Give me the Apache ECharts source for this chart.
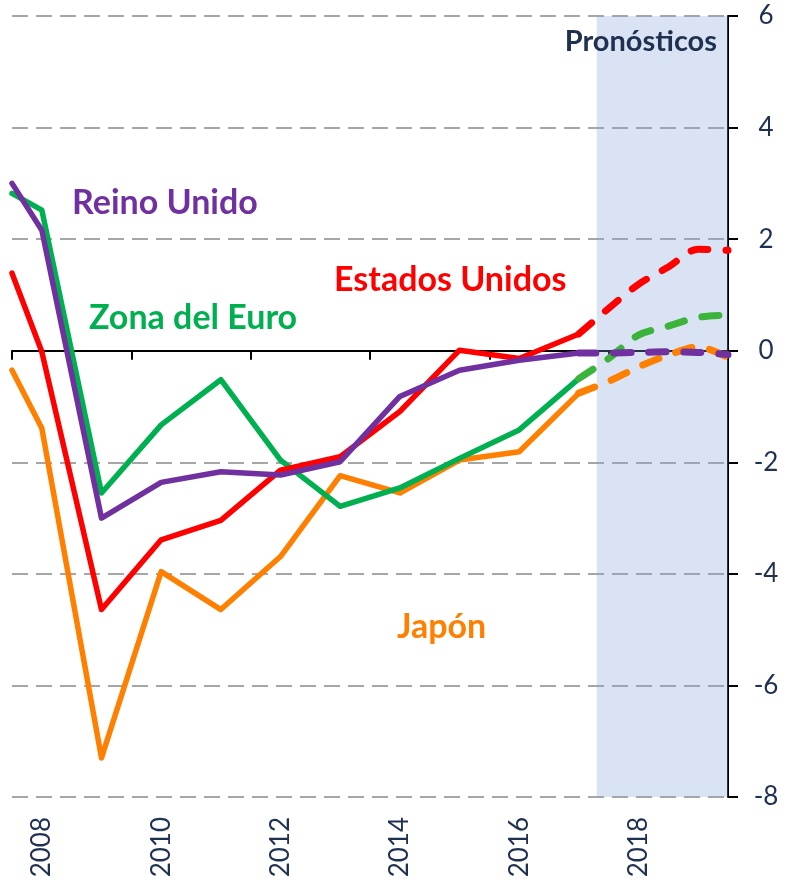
<!DOCTYPE html>
<html>
<head>
<meta charset="utf-8">
<script src="https://cdn.jsdelivr.net/npm/echarts@6/dist/echarts.min.js"></script>
<style>
  html, body { margin: 0; padding: 0; background: #fff; }
  #chart { width: 786px; height: 884px; }
</style>
</head>
<body>
<div id="chart"></div>
<script>
// observed years (first point sits on the left edge of the plot)
const years = [2007.5, 2008, 2009, 2010, 2011, 2012, 2013, 2014, 2015, 2016, 2017]
const usa = [1.39, -0.02, -4.64, -3.39, -3.04, -2.14, -1.90, -1.09, 0.01, -0.14, 0.30]
const uk = [3.0, 2.16, -3.0, -2.36, -2.17, -2.23, -1.99, -0.82, -0.35, -0.17, -0.04]
const euro = [2.82, 2.52, -2.55, -1.33, -0.52, -1.96, -2.79, -2.46, -1.93, -1.42, -0.50]
const japan = [-0.35, -1.39, -7.30, -3.96, -4.64, -3.69, -2.24, -2.55, -1.96, -1.81, -0.76]

// forecasts
const fYears = [2017, 2017.5, 2018, 2018.5, 2019, 2019.5]
const usaF = [0.30, 0.76, 1.19, 1.50, 1.82, 1.80]
const ukF = [-0.04, -0.04, -0.03, -0.02, -0.03, -0.07]
const euroF = [-0.50, -0.14, 0.28, 0.44, 0.60, 0.64]
const japanF = [-0.76, -0.55, -0.29, -0.08, 0.07, -0.12]

const yTicks = [-8, -6, -4, -2, 0, 2, 4, 6]
const xLabels = [2008, 2010, 2012, 2014, 2016, 2018]
const forecastStart = 2017.3

const navy = '#1f3150'
const font = 'Lato, "Open Sans", sans-serif'

const pair = (xs, ys) => xs.map((x, i) => [x, ys[i]])

const solid = (name, color, xs, ys) => ({
  name,
  type: 'line',
  data: pair(xs, ys),
  symbol: 'none',
  lineStyle: { color, width: 5.5, cap: 'round', join: 'round' },
  z: 3
})

const dashed = (name, color, xs, ys) => ({
  name,
  type: 'line',
  data: pair(xs, ys),
  symbol: 'none',
  smooth: 0.3,
  lineStyle: { color, width: 7, type: [17, 18], cap: 'round' },
  z: 4
})

const label = (text, color, x, y, size, align) => ({
  type: 'text',
  x,
  y,
  z: 100,
  style: {
    text,
    fill: color,
    font: `bold ${size}px ${font}`,
    textAlign: align || 'left',
    textVerticalAlign: 'middle'
  }
})

const chart = echarts.init(document.getElementById('chart'))

chart.setOption({
  animation: false,
  grid: { left: 12, right: 58, top: 16, bottom: 87 },
  xAxis: [
    {
      type: 'value',
      min: 2007.5,
      max: 2019.5,
      interval: 2,
      axisLine: { onZero: true, lineStyle: { color: '#000', width: 2 } },
      axisTick: { show: true, length: 9, lineStyle: { color: '#000', width: 2 } },
      axisLabel: { show: false },
      splitLine: { show: false }
    },
    {
      type: 'value',
      position: 'bottom',
      min: 2007.5,
      max: 2019.5,
      interval: 0.5,
      axisLine: { show: false, onZero: false },
      axisTick: { show: false },
      splitLine: { show: false },
      axisLabel: {
        rotate: 90,
        margin: 20,
        color: navy,
        fontFamily: font,
        fontSize: 26,
        formatter: v => xLabels.includes(v) ? String(v) : ''
      }
    }
  ],
  yAxis: {
    type: 'value',
    position: 'right',
    min: -8,
    max: 6,
    interval: 2,
    axisLine: { show: true, lineStyle: { color: '#000', width: 2 } },
    axisTick: { show: true, length: 10, lineStyle: { color: '#000', width: 2 } },
    axisLabel: {
      color: navy,
      fontFamily: font,
      fontSize: 26,
      margin: 38,
      align: 'center',
      formatter: v => yTicks.includes(v) ? String(v) : ''
    },
    splitLine: { show: true, lineStyle: { color: '#a6a6a6', width: 2, type: [16, 8] } }
  },
  series: [
    {
      type: 'line',
      data: [],
      silent: true,
      markArea: {
        silent: true,
        // translucent so the dashed grid lines stay visible through it
        itemStyle: { color: 'rgba(132, 162, 215, 0.3)' },
        data: [[{ xAxis: forecastStart }, { xAxis: 2019.5 }]]
      }
    },
    solid('Japón', '#ff7f00', years, japan),
    solid('Zona del Euro', '#00b050', years, euro),
    solid('Estados Unidos', '#ff0000', years, usa),
    solid('Reino Unido', '#7030a0', years, uk),
    dashed('Japón', '#ff7f00', fYears, japanF),
    dashed('Zona del Euro', '#3cb43c', fYears, euroF),
    dashed('Estados Unidos', '#ff0000', fYears, usaF),
    dashed('Reino Unido', '#7030a0', fYears, ukF)
  ],
  graphic: [
    label('Pronósticos', navy, 717, 42, 29, 'right'),
    label('Reino Unido', '#7030a0', 72, 203, 34),
    label('Estados Unidos', '#ff0000', 334, 280, 34),
    label('Zona del Euro', '#00b050', 89, 318, 34),
    label('Japón', '#ff7f00', 397, 627, 34)
  ]
})

window.addEventListener('resize', () => chart.resize())
</script>
</body>
</html>
